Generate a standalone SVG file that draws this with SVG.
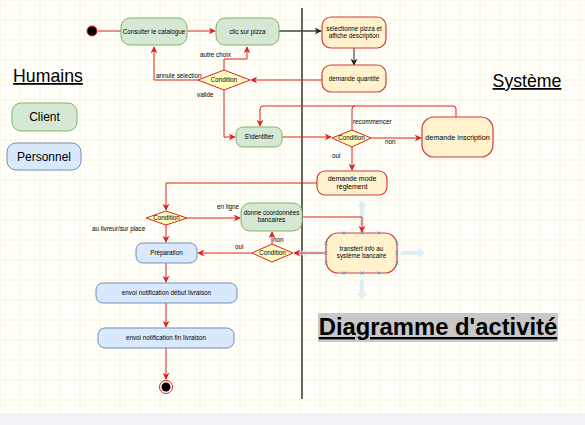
<svg xmlns="http://www.w3.org/2000/svg" width="585" height="425" viewBox="0 0 585 425">
<defs>
<pattern id="minor" width="5" height="5" patternUnits="userSpaceOnUse" x="0.5" y="0.5">
<path d="M5 0V5M0 5H5" fill="none" stroke="#fbf6df" stroke-width="0.6"/>
</pattern>
<pattern id="major" width="20" height="20" patternUnits="userSpaceOnUse" x="0.5" y="0.5">
<path d="M20 0V20M0 20H20" fill="none" stroke="#f3e7b6" stroke-width="0.8"/>
</pattern>
<marker id="ar" viewBox="0 0 10 10" refX="9" refY="5" markerWidth="7" markerHeight="7" orient="auto" markerUnits="userSpaceOnUse">
<path d="M0 0L10 5L0 10L3 5Z" fill="#e02020"/>
</marker>
<marker id="ak" viewBox="0 0 10 10" refX="9" refY="5" markerWidth="7" markerHeight="7" orient="auto" markerUnits="userSpaceOnUse">
<path d="M0 0L10 5L0 10L3 5Z" fill="#222"/>
</marker>
<g id="hx"><path d="M-1.6 -1.6L1.6 1.6M-1.6 1.6L1.6 -1.6" stroke="#3aa6e0" stroke-width="0.9" fill="none"/></g>
</defs>
<style>
.t{font-family:"Liberation Sans",Arial,sans-serif;fill:#000;text-anchor:middle}
.s{font-size:6.3px}
.g{fill:#d5e8d4;stroke:#82b366;stroke-width:1}
.b{fill:#dae8fc;stroke:#6c8ebf;stroke-width:1}
.y{fill:#fff2cc;stroke:#d43c3c;stroke-width:1.2}
.d{fill:#ffffc0;stroke:#e02020;stroke-width:1}
.e{fill:none;stroke:#e02020;stroke-width:1}
.lbl{font-family:"Liberation Sans",Arial,sans-serif;font-size:6.3px;fill:#000}
.hint{fill:#cfe8f3;opacity:0.7}
</style>
<rect width="585" height="425" fill="#fffffb"/>
<rect width="585" height="425" fill="url(#minor)"/>
<rect width="585" height="425" fill="url(#major)"/>
<rect x="0" y="413" width="585" height="12" fill="#f0f2f5"/>

<line x1="302" y1="8" x2="302" y2="399" stroke="#000" stroke-width="1.2"/>

<g id="legend">
<text class="t" x="48" y="82" style="font-size:17.7px;text-decoration:underline">Humains</text>
<text class="t" x="527" y="87" style="font-size:17.7px;text-decoration:underline">Système</text>
<g id="client"><rect class="g" x="12" y="103" width="65" height="28" rx="9"/><text class="t" x="44.5" y="121" style="font-size:12px">Client</text></g>
<g id="personnel"><rect class="b" x="7" y="143" width="74" height="27" rx="9"/><text class="t" x="44" y="161" style="font-size:12px">Personnel</text></g>
<rect x="318" y="313" width="240" height="29" fill="#c8c8c8"/>
<text class="t" x="438" y="335" style="font-size:23.8px;font-weight:bold;text-decoration:underline">Diagramme d'activité</text>
</g>

<g id="hints">
<path class="hint" d="M362 200L367 207H364V226H360V207H357Z"/>
<path class="hint" d="M362 300L367 293H364V280H360V293H357Z"/>
<path class="hint" d="M425 253L418 248V251H401V255H418V258Z"/>
<path class="hint" d="M299 253L306 248V251H322V255H306V258Z"/>
</g>

<g id="connectors">
<path class="e" d="M98 31H215" marker-end="url(#ar)"/>
<path d="M279 31H321" fill="none" stroke="#444" stroke-width="1.5" marker-end="url(#ak)"/>
<path d="M354 48V65" fill="none" stroke="#222" stroke-width="1" marker-end="url(#ak)"/>
<path class="e" d="M322 80H251" marker-end="url(#ar)"/>
<path class="e" d="M224 70V59H247V47" marker-end="url(#ar)"/>
<path class="e" d="M198 80H154V47" marker-end="url(#ar)"/>
<path class="e" d="M224 90V137H235" marker-end="url(#ar)"/>
<path class="e" d="M282 137H331" marker-end="url(#ar)"/>
<path class="e" d="M371 138H421" marker-end="url(#ar)"/>
<path class="e" d="M456 117V109Q456 106 453 106H263Q260 106 260 109V126" marker-end="url(#ar)"/>
<path class="e" d="M352 130V109Q352 106 355 106"/>
<path class="e" d="M352 147V170" marker-end="url(#ar)"/>
<path class="e" d="M317 183H166V210" marker-end="url(#ar)"/>
<path class="e" d="M187 218H240" marker-end="url(#ar)"/>
<path class="e" d="M166 225V242" marker-end="url(#ar)"/>
<path class="e" d="M302 217H362V232" marker-end="url(#ar)"/>
<path class="e" d="M326 253H294" marker-end="url(#ar)"/>
<path class="e" d="M272 244V232" marker-end="url(#ar)"/>
<path class="e" d="M252 253H198" marker-end="url(#ar)"/>
<path class="e" d="M166 263V282" marker-end="url(#ar)"/>
<path class="e" d="M166 303V327" marker-end="url(#ar)"/>
<path class="e" d="M166 348V379" marker-end="url(#ar)"/>
<text class="lbl" x="200" y="57">autre choix</text>
<text class="lbl" x="156" y="78">annule selection</text>
<text class="lbl" x="197" y="97">valide</text>
<text class="lbl" x="353" y="124">recommencer</text>
<text class="lbl" x="385" y="144">non</text>
<text class="lbl" x="332" y="158">oui</text>
<text class="lbl" x="217" y="209">en ligne</text>
<text class="lbl" x="92" y="231">au livreur/sur place</text>
<text class="lbl" x="273" y="242">non</text>
<text class="lbl" x="235" y="249">oui</text>
</g>

<g id="start"><circle cx="92" cy="31" r="5" fill="#000" stroke="#e02020" stroke-width="1"/></g>
<g id="consulter"><rect class="g" x="121" y="18" width="66" height="27" rx="9"/><text class="t s" x="154" y="33.5">Consulter le catalogue</text></g>
<g id="clic"><rect class="g" x="216" y="18" width="63" height="27" rx="9"/><text class="t s" x="247.5" y="33.5">clic sur pizza</text></g>
<g id="selectionne"><rect class="y" x="322" y="17" width="64" height="31" rx="9"/><text class="t s" x="354" y="31">sélectionne pizza et</text><text class="t s" x="354" y="38">affiche description</text></g>
<g id="quantite"><rect class="y" x="322" y="65" width="64" height="27" rx="9"/><text class="t s" x="354" y="81">demande quantité</text></g>
<g id="cond1"><path class="d" d="M198 80L224 70L250 80L224 90Z"/><text class="t s" x="224" y="82">Condition</text></g>
<g id="identifier"><rect class="g" x="236" y="127" width="46" height="20" rx="7"/><text class="t s" x="259" y="139">S'identifier</text></g>
<g id="cond2"><path class="d" d="M332 138L352 130L371 138L352 147Z"/><text class="t s" x="351.5" y="140">Condition</text></g>
<g id="inscription"><rect class="y" x="422" y="117" width="71" height="40" rx="12"/><text class="t" x="457.5" y="139.5" style="font-size:7.2px">demande inscription</text></g>
<g id="mode"><rect class="y" x="317" y="171" width="70" height="24" rx="8"/><text class="t" x="352" y="181" style="font-size:7px">demande mode</text><text class="t" x="352" y="189" style="font-size:7px">règlement</text></g>
<g id="cond3"><path class="d" d="M146 218L166 211L187 218L166 225Z"/><text class="t s" x="166.5" y="220">Condition</text></g>
<g id="coordonnees"><rect class="g" x="241" y="203" width="61" height="28" rx="9"/><text class="t s" x="271.5" y="215">donne coordonnées</text><text class="t s" x="271.5" y="222">bancaires</text></g>
<g id="preparation"><rect class="b" x="136" y="243" width="61" height="20" rx="7"/><text class="t s" x="166.5" y="255">Préparation</text></g>
<g id="cond4"><path class="d" d="M252 253L272 244L293 253L272 262Z"/><text class="t s" x="272.5" y="255">Condition</text></g>
<g id="transfert"><rect class="y" x="326" y="233" width="71" height="40" rx="12"/><text class="t s" x="361.5" y="251">transfert info au</text><text class="t s" x="361.5" y="258">système bancaire</text>
<use href="#hx" x="344" y="233"/><use href="#hx" x="362" y="233"/><use href="#hx" x="379" y="233"/>
<use href="#hx" x="344" y="273"/><use href="#hx" x="362" y="273"/><use href="#hx" x="379" y="273"/>
<use href="#hx" x="326" y="243"/><use href="#hx" x="326" y="253"/><use href="#hx" x="326" y="263"/>
<use href="#hx" x="397" y="243"/><use href="#hx" x="397" y="253"/><use href="#hx" x="397" y="263"/>
</g>
<g id="debut"><rect class="b" x="96" y="283" width="141" height="20" rx="7"/><text class="t s" x="166.5" y="295">envoi notification début livraison</text></g>
<g id="fin"><rect class="b" x="98" y="328" width="136" height="20" rx="7"/><text class="t s" x="166" y="340">envoi notification fin livraison</text></g>
<g id="end"><circle cx="166" cy="387" r="6.5" fill="#fff" stroke="#e02020" stroke-width="1"/><circle cx="166" cy="387" r="4.5" fill="#000"/></g>
</svg>
